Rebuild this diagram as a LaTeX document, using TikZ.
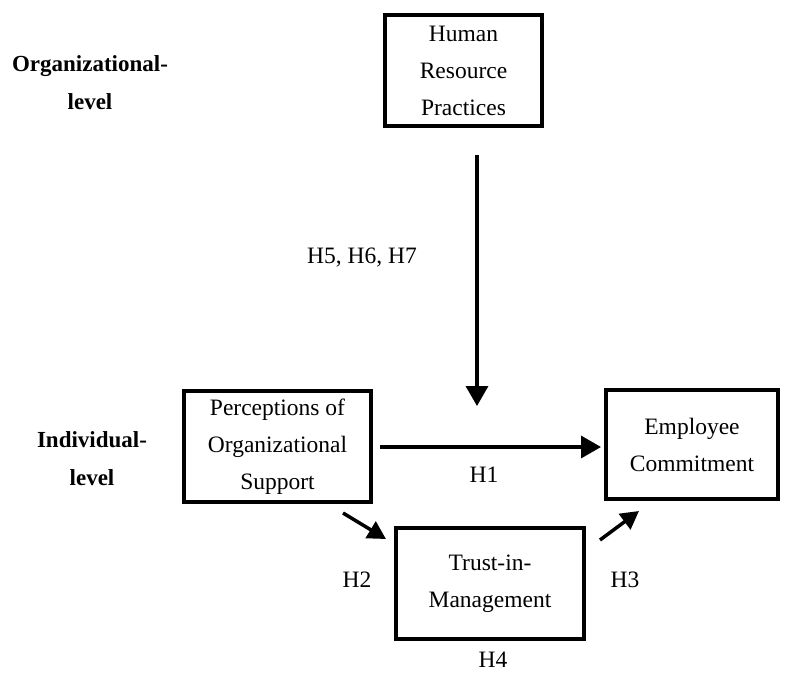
\documentclass[tikz,border=0pt]{standalone}
\usepackage{fontspec}
\setmainfont{Liberation Serif}
\usepackage{tikz}
\usetikzlibrary{arrows.meta}

\begin{document}
\begin{tikzpicture}[x=1pt,y=-1pt,
        box/.style={draw, line width=3.5pt, align=center, inner sep=0pt,
            font=\fontsize{23.5}{37}\selectfont},
        hyp/.style={inner sep=1pt, font=\fontsize{23.5}{28}\selectfont},
        lvl/.style={align=center, font=\fontsize{23}{38}\selectfont\bfseries},
        link/.style={line width=3.5pt, -{Triangle[width=22pt,length=20pt]}},
        short/.style={line width=3.5pt, -{Triangle[width=19pt,length=18pt]}}]
        \useasboundingbox (0,0) rectangle (788,673);

        \node[box, minimum width=157pt, minimum height=111pt] (hrp) at (463.5,70.5) {Human\\Resource\\Practices};
        \node[box, minimum width=187pt, minimum height=111pt] (pos) at (277.5,446.5) {Perceptions of\\Organizational\\Support};
        \node[box, minimum width=172pt, minimum height=109pt] (ec) at (692,444.5) {Employee\\Commitment};
        \node[box, minimum width=188pt, minimum height=111pt] (tm) at (490,583.5) {Trust-in-\\Management};

        \node[lvl] (orglvl) at (90,83) {Organizational-\\level};
        \node[lvl] (indlvl) at (92,459) {Individual-\\level};

        \coordinate (modtop) at (477,155);
        \coordinate (modend) at (477,406);
        \coordinate (h1start) at (380,447);
        \coordinate (h1end) at (601,447);
        \coordinate (h2start) at (343,513);
        \coordinate (h2end) at (386,539);
        \coordinate (h3start) at (600,540);
        \coordinate (h3end) at (639,511);

        \draw[link] (modtop) -- (modend);
        \draw[link] (h1start) -- (h1end);
        \draw[short] (h2start) -- (h2end);
        \draw[short] (h3start) -- (h3end);

        \node[hyp] (h567) at (362,258) {H5, H6, H7};
        \node[hyp] (h1) at (484,475) {H1};
        \node[hyp] (h2) at (357,580) {H2};
        \node[hyp] (h3) at (625,580) {H3};
        \node[hyp] (h4) at (493,660) {H4};
\end{tikzpicture}
\end{document}
